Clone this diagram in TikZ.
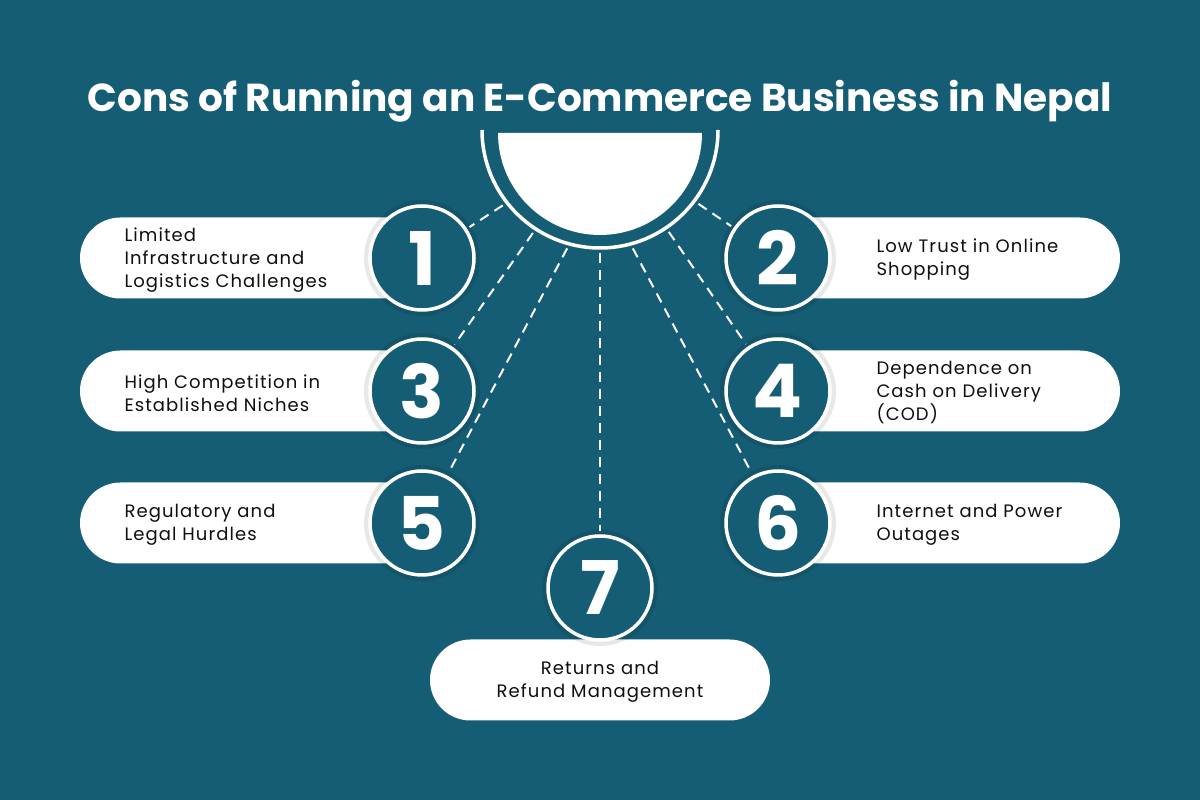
\documentclass[tikz,border=0pt]{standalone}
\usepackage{fontspec}
\setmainfont{Poppins}
\newfontfamily\itemfont[LetterSpace=6]{Poppins}
\definecolor{bgteal}{RGB}{21, 93, 116}
\definecolor{ink}{RGB}{15, 15, 15}
\usetikzlibrary{shapes.misc, positioning}

\begin{document}
\begin{tikzpicture}[x=1pt, y=1pt,
    pill/.style={rounded rectangle, fill=white, minimum width=360pt, minimum height=81pt, inner sep=0pt},
    numbox/.style={circle, draw=white, line width=3.5pt, fill=bgteal, minimum size=104pt, inner sep=0pt,
                   text=white, font=\fontsize{74}{74}\selectfont\bfseries},
    link/.style={white, line width=2pt, dash pattern=on 10pt off 7pt, shorten <=5pt, shorten >=3pt},
    itemtext/.style={align=left, text=ink, font=\itemfont\fontsize{18}{23}\selectfont}]

    \fill[bgteal] (0,0) rectangle (1200,800);
    \useasboundingbox (0,0) rectangle (1200,800);

    \node[text=white, font=\fontsize{39}{42}\selectfont\bfseries] (title) at (600,699)
        {Cons of Running an E-Commerce Business in Nepal};

    % Hub at the top
    \node[circle, minimum size=236pt, inner sep=0pt, outer sep=0pt] (hub) at (600,670) {};
    \fill[white] (498,667) arc[start angle=180, end angle=360, radius=102] -- cycle;
    \draw[white, line width=3.5pt] (hub.west) arc[start angle=180, end angle=360, radius=118];

    % Pills behind the numbers
    \foreach \i/\y in {1/542, 3/409, 5/277}
        \node[pill] (p\i) at (260,\y) {};
    \foreach \i/\y in {2/542, 4/409, 6/277}
        \node[pill] (p\i) at (940,\y) {};
    \node[pill, minimum width=340pt] (p7) at (600,120) {};

    % Soft shadows round the number circles
    \foreach \x/\y in {422/542, 422/409, 422/277, 778/542, 778/409, 778/277, 600/212}
        \fill[black, opacity=0.09] (\x,\y) circle (58);

    % Number circles
    \node[numbox] (n1) at (422,542) {1};
    \node[numbox] (n2) at (778,542) {2};
    \node[numbox] (n3) at (422,409) {3};
    \node[numbox] (n4) at (778,409) {4};
    \node[numbox] (n5) at (422,277) {5};
    \node[numbox] (n6) at (778,277) {6};
    \node[numbox] (n7) at (600,212) {7};

    % Dashed links from the hub
    \draw[link] (hub.-142.6) -- (n1);
    \draw[link] (hub.-37.4) -- (n2);
    \draw[link] (hub.-123.4) -- (n3);
    \draw[link] (hub.-56.6) -- (n4);
    \draw[link] (hub.-105) -- (n5);
    \draw[link] (hub.-75) -- (n6);
    \draw[link] (hub.-90) -- (n7);

    % Texts
    \node[itemtext, anchor=west] (t1) at (121,540) {Limited\\Infrastructure and\\Logistics Challenges};
    \node[itemtext, anchor=west] (t3) at (121,407) {High Competition in\\Established Niches};
    \node[itemtext, anchor=west] (t5) at (121,275) {Regulatory and\\Legal Hurdles};
    \node[itemtext, anchor=west] (t2) at (873,540) {Low Trust in Online\\Shopping};
    \node[itemtext, anchor=west] (t4) at (873,407) {Dependence on\\Cash on Delivery\\(COD)};
    \node[itemtext, anchor=west] (t6) at (873,275) {Internet and Power\\Outages};
    \node[itemtext, align=center] (t7) at (600,118) {Returns and\\Refund Management};
\end{tikzpicture}
\end{document}
